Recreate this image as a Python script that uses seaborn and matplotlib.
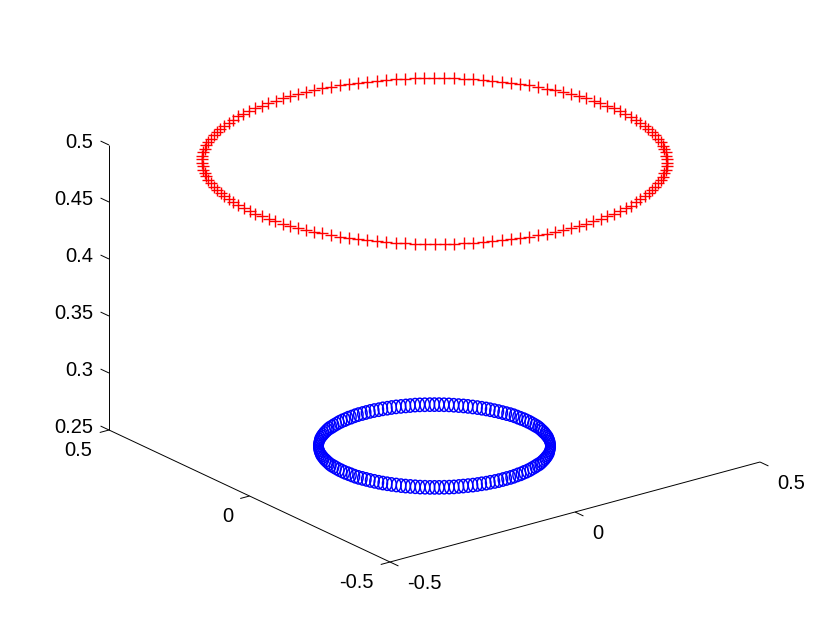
import numpy as np
import matplotlib
matplotlib.use("Agg")
import matplotlib.pyplot as plt
from matplotlib.markers import MarkerStyle
from matplotlib.transforms import Affine2D
import seaborn as sns

# ------------------------------------------
# DATA
# ------------------------------------------

red_x = [
    0.500, 0.500, 0.498, 0.496, 0.493, 0.489, 0.484, 0.479, 0.472, 0.465,
    0.457, 0.448, 0.438, 0.428, 0.416, 0.405, 0.392, 0.379, 0.365, 0.350,
    0.335, 0.319, 0.302, 0.285, 0.268, 0.250, 0.232, 0.213, 0.194, 0.174,
    0.155, 0.134, 0.114, 0.094, 0.073, 0.052, 0.031, 0.010,
    -0.010, -0.031, -0.052, -0.073, -0.094, -0.114, -0.134, -0.155, -0.174, -0.194,
    -0.213, -0.232, -0.250, -0.268, -0.285, -0.302, -0.319, -0.335, -0.350, -0.365,
    -0.379, -0.392, -0.405, -0.416, -0.428, -0.438, -0.448, -0.457, -0.465, -0.472,
    -0.479, -0.484, -0.489, -0.493, -0.496, -0.498, -0.500, -0.500,
    -0.500, -0.498, -0.496, -0.493, -0.489, -0.484, -0.479, -0.472, -0.465, -0.457,
    -0.448, -0.438, -0.428, -0.416, -0.405, -0.392, -0.379, -0.365, -0.350, -0.335,
    -0.319, -0.302, -0.285, -0.268, -0.250, -0.232, -0.213, -0.194, -0.174, -0.155,
    -0.134, -0.114, -0.094, -0.073, -0.052, -0.031, -0.010,
    0.010, 0.031, 0.052, 0.073, 0.094, 0.114, 0.134, 0.155, 0.174, 0.194,
    0.213, 0.232, 0.250, 0.268, 0.285, 0.302, 0.319, 0.335, 0.350, 0.365,
    0.379, 0.392, 0.405, 0.416, 0.428, 0.438, 0.448, 0.457, 0.465, 0.472,
    0.479, 0.484, 0.489, 0.493, 0.496, 0.498, 0.500,
]
red_y = [
    0.000, 0.021, 0.042, 0.063, 0.083, 0.104, 0.124, 0.145, 0.164, 0.184,
    0.203, 0.222, 0.241, 0.259, 0.277, 0.294, 0.311, 0.327, 0.342, 0.357,
    0.372, 0.385, 0.398, 0.411, 0.422, 0.433, 0.443, 0.452, 0.461, 0.469,
    0.476, 0.482, 0.487, 0.491, 0.495, 0.497, 0.499, 0.500,
    0.500, 0.499, 0.497, 0.495, 0.491, 0.487, 0.482, 0.476, 0.469, 0.461,
    0.452, 0.443, 0.433, 0.422, 0.411, 0.398, 0.385, 0.372, 0.357, 0.342,
    0.327, 0.311, 0.294, 0.277, 0.259, 0.241, 0.222, 0.203, 0.184, 0.164,
    0.145, 0.124, 0.104, 0.083, 0.063, 0.042, 0.021, 0.000,
    -0.021, -0.042, -0.063, -0.083, -0.104, -0.124, -0.145, -0.164, -0.184, -0.203,
    -0.222, -0.241, -0.259, -0.277, -0.294, -0.311, -0.327, -0.342, -0.357, -0.372,
    -0.385, -0.398, -0.411, -0.422, -0.433, -0.443, -0.452, -0.461, -0.469, -0.476,
    -0.482, -0.487, -0.491, -0.495, -0.497, -0.499, -0.500,
    -0.500, -0.499, -0.497, -0.495, -0.491, -0.487, -0.482, -0.476, -0.469, -0.461,
    -0.452, -0.443, -0.433, -0.422, -0.411, -0.398, -0.385, -0.372, -0.357, -0.342,
    -0.327, -0.311, -0.294, -0.277, -0.259, -0.241, -0.222, -0.203, -0.184, -0.164,
    -0.145, -0.124, -0.104, -0.083, -0.063, -0.042, -0.021,
]
blue_x = [
    0.250, 0.250, 0.249, 0.248, 0.247, 0.245, 0.242, 0.239, 0.236, 0.232,
    0.228, 0.224, 0.219, 0.214, 0.208, 0.202, 0.196, 0.189, 0.182, 0.175,
    0.167, 0.159, 0.151, 0.143, 0.134, 0.125, 0.116, 0.106, 0.097, 0.087,
    0.077, 0.067, 0.057, 0.047, 0.037, 0.026, 0.016, 0.005,
    -0.005, -0.016, -0.026, -0.037, -0.047, -0.057, -0.067, -0.077, -0.087, -0.097,
    -0.106, -0.116, -0.125, -0.134, -0.143, -0.151, -0.159, -0.167, -0.175, -0.182,
    -0.189, -0.196, -0.202, -0.208, -0.214, -0.219, -0.224, -0.228, -0.232, -0.236,
    -0.239, -0.242, -0.245, -0.247, -0.248, -0.249, -0.250, -0.250,
    -0.250, -0.249, -0.248, -0.247, -0.245, -0.242, -0.239, -0.236, -0.232, -0.228,
    -0.224, -0.219, -0.214, -0.208, -0.202, -0.196, -0.189, -0.182, -0.175, -0.167,
    -0.159, -0.151, -0.143, -0.134, -0.125, -0.116, -0.106, -0.097, -0.087, -0.077,
    -0.067, -0.057, -0.047, -0.037, -0.026, -0.016, -0.005,
    0.005, 0.016, 0.026, 0.037, 0.047, 0.057, 0.067, 0.077, 0.087, 0.097,
    0.106, 0.116, 0.125, 0.134, 0.143, 0.151, 0.159, 0.167, 0.175, 0.182,
    0.189, 0.196, 0.202, 0.208, 0.214, 0.219, 0.224, 0.228, 0.232, 0.236,
    0.239, 0.242, 0.245, 0.247, 0.248, 0.249, 0.250,
]
blue_y = [
    0.000, 0.010, 0.021, 0.031, 0.042, 0.052, 0.062, 0.072, 0.082, 0.092,
    0.102, 0.111, 0.120, 0.129, 0.138, 0.147, 0.155, 0.163, 0.171, 0.179,
    0.186, 0.193, 0.199, 0.205, 0.211, 0.217, 0.222, 0.226, 0.230, 0.234,
    0.238, 0.241, 0.243, 0.246, 0.247, 0.249, 0.250, 0.250,
    0.250, 0.250, 0.249, 0.247, 0.246, 0.243, 0.241, 0.238, 0.234, 0.230,
    0.226, 0.222, 0.217, 0.211, 0.205, 0.199, 0.193, 0.186, 0.179, 0.171,
    0.163, 0.155, 0.147, 0.138, 0.129, 0.120, 0.111, 0.102, 0.092, 0.082,
    0.072, 0.062, 0.052, 0.042, 0.031, 0.021, 0.010, 0.000,
    -0.010, -0.021, -0.031, -0.042, -0.052, -0.062, -0.072, -0.082, -0.092, -0.102,
    -0.111, -0.120, -0.129, -0.138, -0.147, -0.155, -0.163, -0.171, -0.179, -0.186,
    -0.193, -0.199, -0.205, -0.211, -0.217, -0.222, -0.226, -0.230, -0.234, -0.238,
    -0.241, -0.243, -0.246, -0.247, -0.249, -0.250, -0.250,
    -0.250, -0.250, -0.249, -0.247, -0.246, -0.243, -0.241, -0.238, -0.234, -0.230,
    -0.226, -0.222, -0.217, -0.211, -0.205, -0.199, -0.193, -0.186, -0.179, -0.171,
    -0.163, -0.155, -0.147, -0.138, -0.129, -0.120, -0.111, -0.102, -0.092, -0.082,
    -0.072, -0.062, -0.052, -0.042, -0.031, -0.021, -0.010,
]
red_z = 0.5
blue_z = 0.25

x_ticks = [-0.5, 0.0, 0.5]
y_ticks = [-0.5, 0.0, 0.5]
z_ticks = [0.25, 0.3, 0.35, 0.4, 0.45, 0.5]
x_tick_labels = ["-0.5", "0", "0.5"]
y_tick_labels = ["-0.5", "0", "0.5"]
z_tick_labels = ["0.25", "0.3", "0.35", "0.4", "0.45", "0.5"]

# ------------------------------------------
# PROJECTION  (fixed 3D view onto the figure, in pixels)
# ------------------------------------------

def project(x, y, z):
    x, y, z = np.asarray(x, float), np.asarray(y, float), np.asarray(z, float)
    px = 390 + (x + 0.5) * 370 - (y + 0.5) * 281
    py = 562 - (x + 0.5) * 100 - (y + 0.5) * 132 - (z - 0.25) * 1140
    return px, py


def seg(ax, a, b):
    (x0, y0), (x1, y1) = project(*a), project(*b)
    ax.plot([x0, x1], [y0, y1], color="black", lw=0.7, solid_capstyle="butt")


# ------------------------------------------
# PLOT
# ------------------------------------------

sns.set_theme(style="white")
plt.rcParams["font.family"] = ["Liberation Sans", "DejaVu Sans"]

fig = plt.figure(figsize=(8.4, 6.3), dpi=100)
ax = fig.add_axes([0, 0, 1, 1])

rx, ry = project(red_x, red_y, np.full(len(red_x), red_z))
bx, by = project(blue_x, blue_y, np.full(len(blue_x), blue_z))

# the rings are taller than wide in the reference
ring = MarkerStyle("o", transform=Affine2D().scale(0.85, 1.2))
sns.scatterplot(x=bx, y=by, marker=ring, s=64, facecolor="none",
                edgecolor="#0000ff", linewidth=1.05, ax=ax, zorder=3)
sns.scatterplot(x=rx, y=ry, marker="+", s=85, color="#ff0000",
                linewidth=1.0, ax=ax, zorder=4)

ax.set_xlim(0, 840)
ax.set_ylim(630, 0)
ax.axis("off")

# axis lines
seg(ax, (-0.5, -0.5, 0.25), (0.5, -0.5, 0.25))
seg(ax, (-0.5, -0.5, 0.25), (-0.5, 0.5, 0.25))
seg(ax, (-0.5, 0.5, 0.25), (-0.5, 0.5, 0.5))

FS = 14.5
for val, lab in zip(x_ticks, x_tick_labels):
    seg(ax, (val, -0.5, 0.25), (val, -0.53, 0.25))
    px, py = project(val, -0.5, 0.25)
    ax.text(px + 17.5, py + 21.5, lab, ha="left", va="center", fontsize=FS, color="black")

for val, lab in zip(y_ticks, y_tick_labels):
    seg(ax, (-0.5, val, 0.25), (-0.525, val, 0.25))
    px, py = project(-0.5, val, 0.25)
    ax.text(px - 16.5, py + 20, lab, ha="right", va="center", fontsize=FS, color="black")

for val, lab in zip(z_ticks, z_tick_labels):
    seg(ax, (-0.5, 0.5, val), (-0.5, 0.53, val))
    px, py = project(-0.5, 0.5, val)
    ax.text(93, py - 2.5, lab, ha="right", va="center", fontsize=FS, color="black")

fig.savefig("out.png", dpi=100)
plt.close(fig)
